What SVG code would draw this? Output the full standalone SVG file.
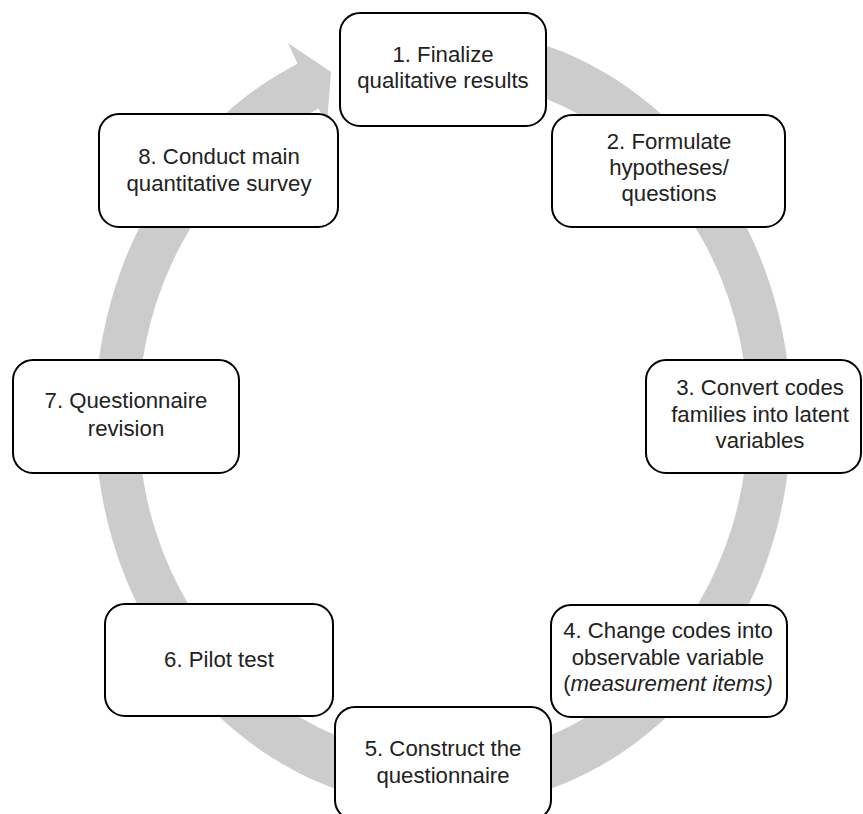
<svg xmlns="http://www.w3.org/2000/svg" width="863" height="814" viewBox="0 0 863 814">
  <style>
    .box { fill: #ffffff; stroke: #000000; stroke-width: 2; }
    .lbl { font-family: "Liberation Sans", Arial, sans-serif; font-size: 22.2px; fill: #222222; text-anchor: middle; }
    .ring { fill: #cccccc; stroke: none; }
  </style>
  <rect width="863" height="814" fill="#ffffff"/>

  <!-- circular arrow running clockwise behind the steps -->
  <g id="connectors">
    <path class="ring" d="M 412.7 29.5 A 348 390 0 1 1 297.6 63.7 L 288 43 L 331 72 L 327 124 L 318.5 108.6 A 305 339 0 1 0 416.4 80.3 Z"/>
  </g>

  <g id="step1">
    <rect class="box" x="340" y="13" width="206" height="113" rx="20"/>
    <text class="lbl" x="443" y="62">1. Finalize</text>
    <text class="lbl" x="443" y="88">qualitative results</text>
  </g>

  <g id="step2">
    <rect class="box" x="552" y="115" width="233" height="112" rx="20"/>
    <text class="lbl" x="669" y="149">2. Formulate</text>
    <text class="lbl" x="669" y="175">hypotheses/</text>
    <text class="lbl" x="669" y="201">questions</text>
  </g>

  <g id="step3">
    <rect class="box" x="646" y="360" width="215" height="113" rx="20"/>
    <text class="lbl" x="760" y="395">3. Convert codes</text>
    <text class="lbl" x="760" y="422">families into latent</text>
    <text class="lbl" x="760" y="448">variables</text>
  </g>

  <g id="step4">
    <rect class="box" x="551" y="605" width="236" height="112" rx="20"/>
    <text class="lbl" x="668" y="638">4. Change codes into</text>
    <text class="lbl" x="668" y="665">observable variable</text>
    <text class="lbl" x="668" y="691">(<tspan font-style="italic">measurement items)</tspan></text>
  </g>

  <g id="step5">
    <rect class="box" x="335" y="707" width="216" height="113" rx="20"/>
    <text class="lbl" x="443" y="756">5. Construct the</text>
    <text class="lbl" x="443" y="783">questionnaire</text>
  </g>

  <g id="step6">
    <rect class="box" x="105" y="604" width="228" height="112" rx="20"/>
    <text class="lbl" x="219" y="667">6. Pilot test</text>
  </g>

  <g id="step7">
    <rect class="box" x="13" y="360" width="226" height="113" rx="20"/>
    <text class="lbl" x="126" y="408">7. Questionnaire</text>
    <text class="lbl" x="126" y="436">revision</text>
  </g>

  <g id="step8">
    <rect class="box" x="99" y="114" width="239" height="113" rx="20"/>
    <text class="lbl" x="219" y="164">8. Conduct main</text>
    <text class="lbl" x="219" y="191">quantitative survey</text>
  </g>
</svg>
